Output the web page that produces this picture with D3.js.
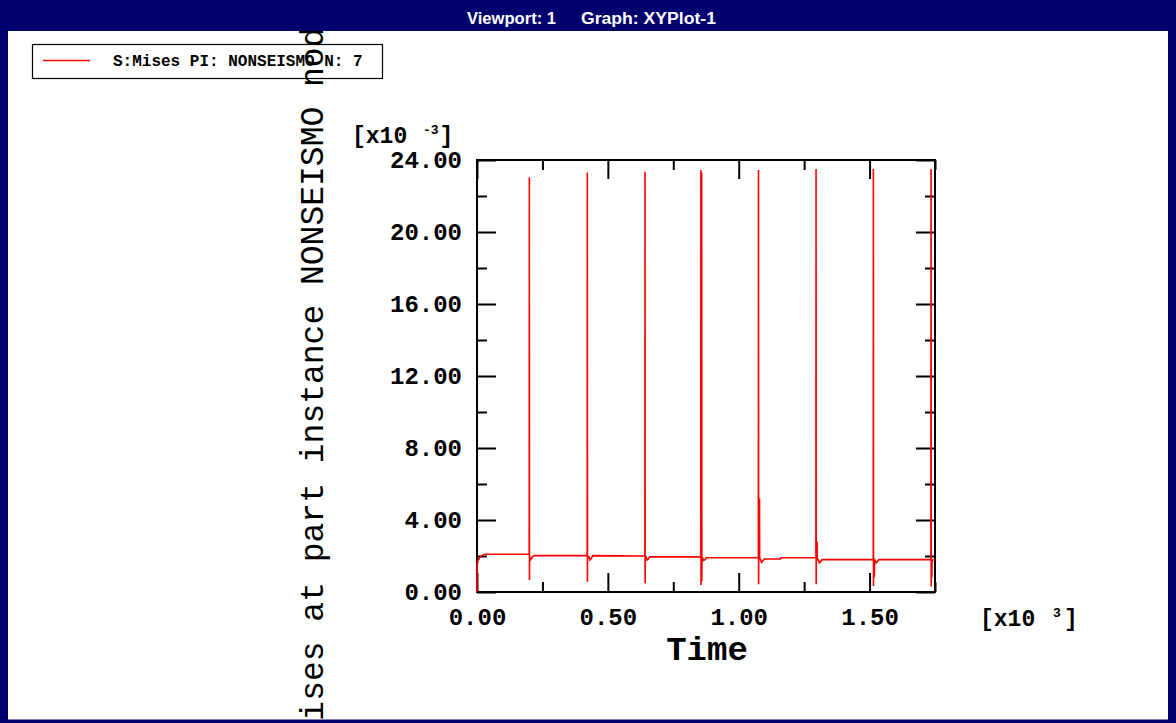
<!DOCTYPE html>
<html><head><meta charset="utf-8">
<script src="https://cdn.jsdelivr.net/npm/d3@7"></script>
<style>body{margin:0;background:#fff;} svg{display:block}</style>
</head><body>
<svg id="c" width="1176" height="723"></svg>
<script>
// ---- data ----
const timeS = [
  0, 0.5, 4, 10, 18, 30, 199.5,
  200, 200.5, 201, 203, 207, 212, 218, 421,
  421.5, 422, 422.5, 424, 428, 431, 436, 442, 641.5,
  642, 642.5, 643, 646, 649, 654, 660, 855,
  855.5, 856, 856.5, 858, 858.5, 859, 859.5, 862, 866, 871, 876, 1075,
  1075.5, 1076, 1076.5, 1079, 1079.5, 1080, 1083, 1087, 1092, 1098, 1160, 1162, 1295,
  1295.5, 1296, 1296.5, 1299, 1299.5, 1300, 1304, 1308, 1313, 1319, 1514,
  1514.5, 1515, 1515.5, 1517, 1518, 1519, 1521, 1525, 1530, 1536, 1734.5,
  1735, 1735.5, 1736, 1737.5, 1738, 1738.5, 1740, 1750
];
const stressE3 = [
  0, 1.5, 1.75, 1.9, 2.02, 2.1, 2.1,
  23.04, 0.67, 2.02, 1.75, 1.85, 1.95, 2.02, 2.02,
  23.3, 0.57, 2.0, 1.95, 1.95, 1.78, 1.85, 2.02, 2.0,
  23.35, 0.48, 1.97, 1.97, 1.78, 1.82, 1.95, 1.95,
  23.45, 0.39, 1.9, 1.9, 23.3, 0.6, 1.9, 1.9, 1.75, 1.8, 1.9, 1.9,
  23.45, 0.43, 1.85, 1.85, 5.2, 1.85, 1.83, 1.65, 1.72, 1.83, 1.83, 1.9, 1.9,
  23.5, 0.43, 1.85, 1.85, 2.8, 1.8, 1.8, 1.62, 1.7, 1.8, 1.8,
  23.5, 0.33, 1.8, 1.6, 0.8, 1.6, 1.75, 1.62, 1.7, 1.8, 1.8,
  23.5, 0.3, 1.78, 1.55, 0.8, 1.6, 1.78, 1.78
];
const xMajor = [0, 500, 1000, 1500];
const xMinor = [250, 750, 1250, 1750];
const xTickLabels = ["0.00", "0.50", "1.00", "1.50"];
const yMajor = [0, 4, 8, 12, 16, 20, 24];
const yMinor = [2, 6, 10, 14, 18, 22];
const yTickLabels = ["0.00", "4.00", "8.00", "12.00", "16.00", "20.00", "24.00"];
const legendLabel = "S:Mises PI: NONSEISMO N: 7";
const yTitle = "S, Mises at part instance NONSEISMO node 7";
const xTitle = "Time";
const titleParts = ["Viewport: 1", "Graph: XYPlot-1"];

// ---- drawing ----
const svg = d3.select("#c");
const MONO = "'Liberation Mono', 'DejaVu Sans Mono', monospace";
const NAVY = "#00006e";
const x = d3.scaleLinear().domain([0, 1750]).range([477, 935]);
const y = d3.scaleLinear().domain([0, 24]).range([592, 160]);

svg.append("rect").attr("width", 1176).attr("height", 723).attr("fill", "#fff");

// legend
svg.append("rect").attr("x", 32.5).attr("y", 44.5).attr("width", 350).attr("height", 34)
  .attr("fill", "#fff").attr("stroke", "#000").attr("stroke-width", 1.2);
svg.append("line").attr("x1", 43).attr("x2", 90).attr("y1", 60.5).attr("y2", 60.5)
  .attr("stroke", "#ff0000").attr("stroke-width", 1.5);
svg.append("text").attr("x", 113).attr("y", 66).text(legendLabel)
  .attr("font-family", MONO).attr("font-size", 16).attr("font-weight", "bold").attr("fill", "#000");

// axes helper
function styleAxis(g) {
  g.select(".domain").remove();
  g.selectAll(".tick line").attr("stroke", "#000").attr("stroke-width", 2);
  g.selectAll(".tick text").attr("font-family", MONO).attr("font-size", 24)
    .attr("font-weight", "bold").attr("fill", "#000");
}
const fmtX = d => xTickLabels[xMajor.indexOf(d)];
const fmtY = d => yTickLabels[yMajor.indexOf(d)];

svg.append("g").attr("transform", "translate(0,592)")
  .call(d3.axisBottom(x).tickValues(xMajor).tickSize(-19).tickPadding(16).tickFormat(fmtX))
  .call(styleAxis);
svg.append("g").attr("transform", "translate(0,592)")
  .call(d3.axisBottom(x).tickValues(xMinor).tickSize(-10).tickFormat(""))
  .call(styleAxis);
svg.append("g").attr("transform", "translate(0,160)")
  .call(d3.axisTop(x).tickValues(xMajor).tickSize(-19).tickFormat(""))
  .call(styleAxis);
svg.append("g").attr("transform", "translate(0,160)")
  .call(d3.axisTop(x).tickValues(xMinor).tickSize(-10).tickFormat(""))
  .call(styleAxis);
svg.append("g").attr("transform", "translate(477,0)")
  .call(d3.axisLeft(y).tickValues(yMajor).tickSize(-19).tickPadding(15).tickFormat(fmtY))
  .call(styleAxis);
svg.append("g").attr("transform", "translate(477,0)")
  .call(d3.axisLeft(y).tickValues(yMinor).tickSize(-10).tickFormat(""))
  .call(styleAxis);
svg.append("g").attr("transform", "translate(935,0)")
  .call(d3.axisRight(y).tickValues(yMajor).tickSize(-19).tickFormat(""))
  .call(styleAxis);
svg.append("g").attr("transform", "translate(935,0)")
  .call(d3.axisRight(y).tickValues(yMinor).tickSize(-10).tickFormat(""))
  .call(styleAxis);

// frame
svg.append("rect").attr("x", x(0)).attr("y", y(24)).attr("width", x(1750) - x(0)).attr("height", y(0) - y(24))
  .attr("fill", "none").attr("stroke", "#000").attr("stroke-width", 2);

// series
const pts = timeS.map((t, i) => [t, stressE3[i]]);
svg.append("path").datum(pts)
  .attr("d", d3.line().x(d => x(d[0])).y(d => y(d[1])))
  .attr("fill", "none").attr("stroke", "#ff0000").attr("stroke-width", 1.6)
  .attr("stroke-linejoin", "miter");

// unit labels
function unit(xp, yp, sup, supDx, brDx) {
  const g = svg.append("g").attr("font-family", MONO).attr("font-weight", "bold").attr("fill", "#000");
  g.append("text").attr("x", xp).attr("y", yp).attr("font-size", 23).text("[x10");
  g.append("text").attr("x", xp + supDx).attr("y", yp - 9).attr("font-size", 13).text(sup);
  g.append("text").attr("x", xp + brDx).attr("y", yp).attr("font-size", 23).text("]");
}
unit(352, 143, "-3", 71, 87.5);
unit(980, 626, "3", 73, 84);

// x title
svg.append("text").attr("x", 707).attr("y", 660).attr("text-anchor", "middle")
  .attr("font-family", MONO).attr("font-size", 34).attr("font-weight", "bold").text(xTitle);

// y title
svg.append("text").attr("transform", "translate(323,384) rotate(-90)").attr("text-anchor", "middle")
  .attr("font-family", MONO).attr("font-size", 33).attr("fill", "#000").text(yTitle);

// window frame
svg.append("rect").attr("x", 0).attr("y", 0).attr("width", 1176).attr("height", 31).attr("fill", NAVY);
svg.append("rect").attr("x", 0).attr("y", 0).attr("width", 8).attr("height", 723).attr("fill", NAVY);
svg.append("rect").attr("x", 1168).attr("y", 0).attr("width", 8).attr("height", 723).attr("fill", NAVY);
svg.append("rect").attr("x", 0).attr("y", 719.5).attr("width", 1176).attr("height", 3.5).attr("fill", NAVY);
svg.append("text").attr("x", 467).attr("y", 24).attr("fill", "#fff")
  .attr("font-family", "'Liberation Sans Narrow','Liberation Sans',Arial,sans-serif")
  .attr("font-size", 16).attr("font-weight", "bold")
  .attr("textLength", 89).attr("lengthAdjust", "spacingAndGlyphs").text(titleParts[0]);
svg.append("text").attr("x", 581).attr("y", 24).attr("fill", "#fff")
  .attr("font-family", "'Liberation Sans Narrow','Liberation Sans',Arial,sans-serif")
  .attr("font-size", 16).attr("font-weight", "bold")
  .attr("textLength", 135).attr("lengthAdjust", "spacingAndGlyphs").text(titleParts[1]);
</script>
</body></html>
